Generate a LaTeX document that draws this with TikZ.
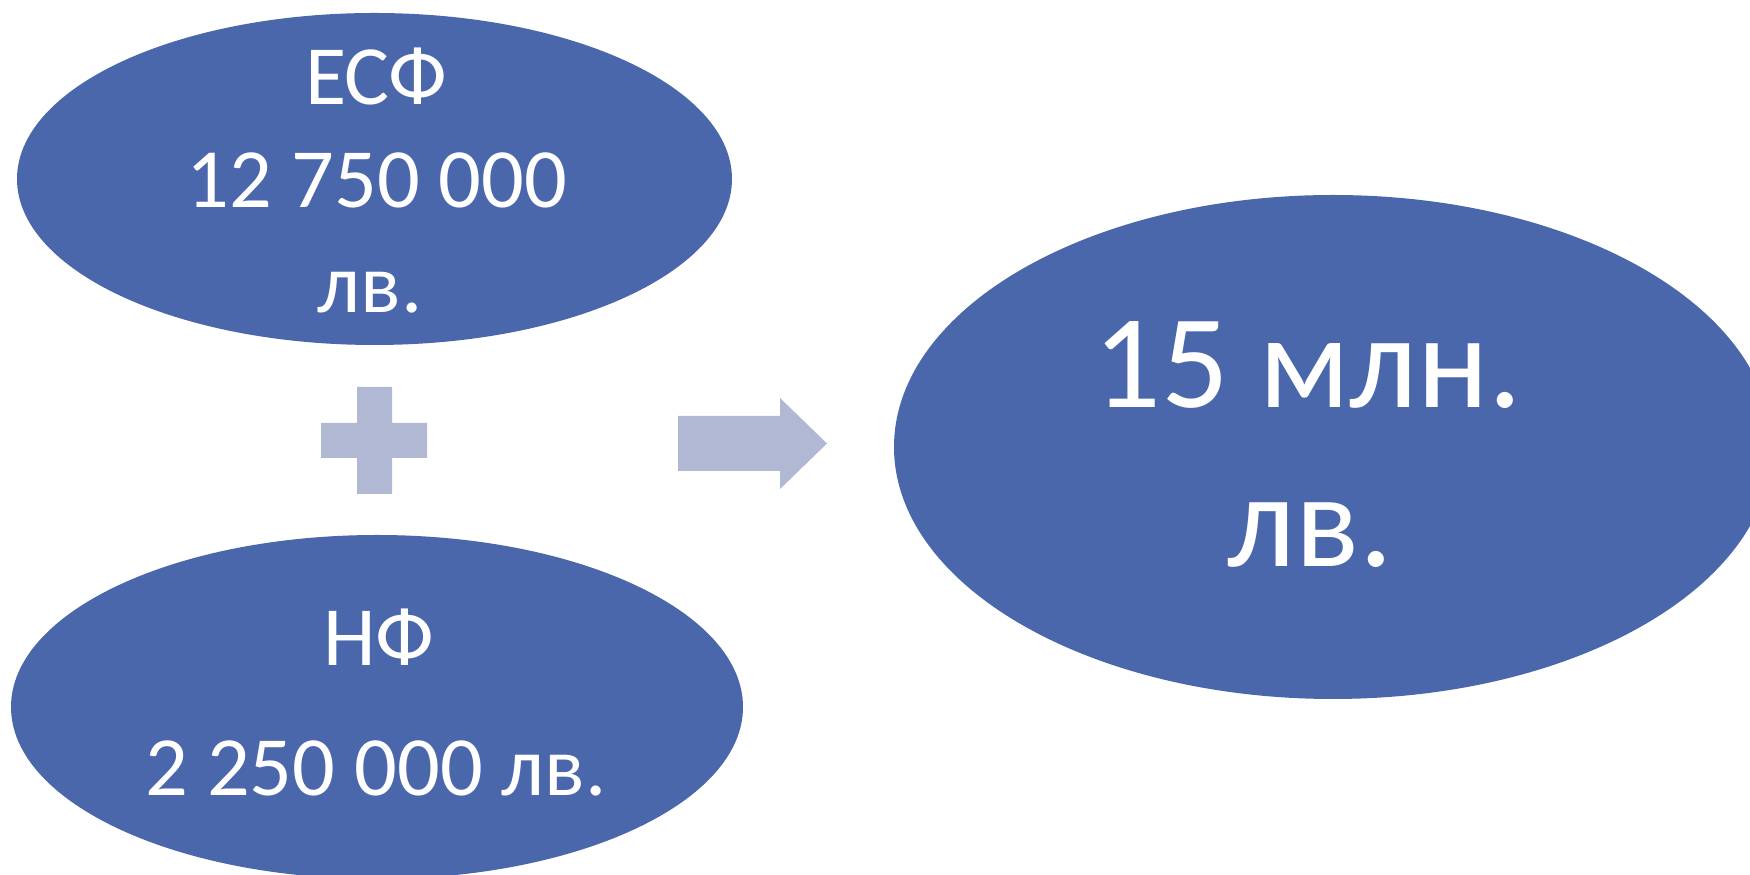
\documentclass[tikz,border=0pt]{standalone}
\usepackage{fontspec}
\setmainfont{Carlito}
\usetikzlibrary{shapes.geometric}
\definecolor{ovalblue}{HTML}{4A67AC}
\definecolor{signgray}{HTML}{B0B8D3}
\tikzset{
  oval/.style={ellipse, fill=ovalblue, inner sep=0pt, outer sep=0pt},
  lbl/.style={anchor=base, text=white, inner sep=0pt},
  small/.style={lbl, font=\fontsize{24}{28}\selectfont},
  big/.style={lbl, font=\fontsize{38}{46}\selectfont},
  sign/.style={fill=signgray}
}
\begin{document}
\begin{tikzpicture}[x=0.1mm, y=-0.1mm]
\useasboundingbox (0,0) rectangle (1750,875);
\clip (0,0) rectangle (1750,875);
% ovals
\node[oval, minimum width=71.5mm, minimum height=33.2mm] (esf) at (374.5,179) {};
\node[oval, minimum width=73.2mm, minimum height=34.4mm] (nf) at (377,707) {};
\node[oval, minimum width=87.8mm, minimum height=50.4mm] (total) at (1333,447) {};
% texts
\node[small] (esfname) at (376,105) {ЕСФ};
\node[small] (esfsum) at (377,208) {12 750 000};
\node[small] (esfcur) at (370,313) {лв.};
\node[small] (nfname) at (379,666) {НФ};
\node[small] (nfsum) at (376,796) {2 250 000 лв.};
\node[big] (totsum) at (1308,408) {15 млн.};
\node[big] (totcur) at (1310,567) {лв.};
% plus sign
\fill[sign] (357,387) -- (392,387) -- (392,423) -- (427,423) -- (427,458) -- (392,458)
  -- (392,494) -- (357,494) -- (357,458) -- (321,458) -- (321,423) -- (357,423) -- cycle;
% arrow
\fill[sign] (678,416) -- (780,416) -- (780,398) -- (827,443.5) -- (780,489) -- (780,471)
  -- (678,471) -- cycle;
\end{tikzpicture}
\end{document}
